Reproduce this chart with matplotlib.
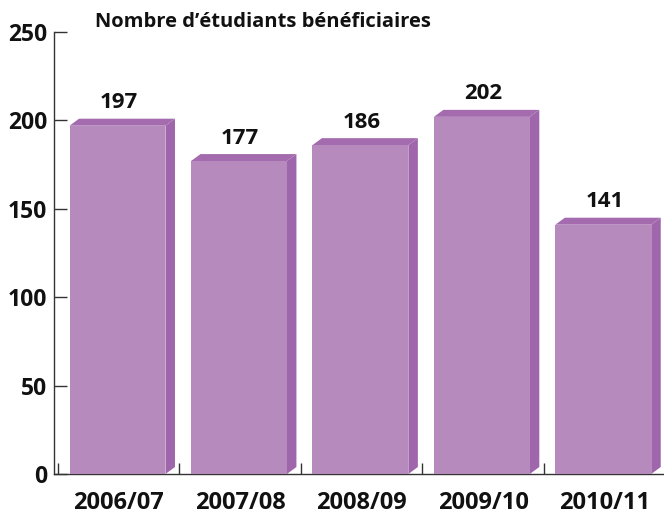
import matplotlib
matplotlib.use("Agg")
import matplotlib.pyplot as plt
from matplotlib.patches import Polygon
import numpy as np

categories = ["2006/07", "2007/08", "2008/09", "2009/10", "2010/11"]
values = [197, 177, 186, 202, 141]
yticks = [0, 50, 100, 150, 200, 250]
title = "Nombre d\u2019étudiants bénéficiaires"

FRONT = "#b68abd"
SIDE = "#a066ab"
TOP = "#a46cae"
FONT = "Open Sans"

fig = plt.figure(figsize=(6.64, 5.14), dpi=100)
ax = fig.add_axes([54 / 664, 40 / 514, 610 / 664, 442 / 514])
ax.set_xlim(-0.533, 4.49)
ax.set_ylim(0, 250)

x = np.arange(len(categories))
width = 0.79
bars = ax.bar(x - 0.01, values, width=width, color=FRONT, zorder=3)

fig.canvas.draw()
inv = ax.transData.inverted()
p0 = inv.transform(ax.transData.transform((0, 0)))
p1 = inv.transform(ax.transData.transform((0, 0)) + np.array([9.5, 7.0]))
dx, dy = p1 - p0

for b in bars:
    xl = b.get_x()
    xr = xl + b.get_width()
    h = b.get_height()
    side = Polygon([(xr, 0), (xr + dx, dy), (xr + dx, h + dy), (xr, h)],
                   closed=True, facecolor=SIDE, edgecolor="none", zorder=2)
    top = Polygon([(xl, h), (xl + dx, h + dy), (xr + dx, h + dy), (xr, h)],
                  closed=True, facecolor=TOP, edgecolor="none", zorder=2)
    ax.add_patch(side)
    ax.add_patch(top)

for xi, v in zip(x, values):
    ax.annotate(str(v), xy=(xi, v), xytext=(0, 9), textcoords="offset points",
                ha="center", va="bottom", fontsize=16, fontweight="bold",
                family=FONT, color="#111111")

for s in ["top", "right"]:
    ax.spines[s].set_visible(False)
for s in ["left", "bottom"]:
    ax.spines[s].set_color("#333333")
    ax.spines[s].set_linewidth(1.0)

ax.set_yticks(yticks)
ax.set_yticklabels([str(t) for t in yticks], fontsize=16.5, fontweight="bold",
                   family=FONT, color="#111111")
ax.tick_params(axis="y", direction="in", length=9, width=1.0, color="#333333", pad=5)

ax.set_xticks(x)
ax.set_xticklabels(categories, fontsize=17, fontweight="bold", family=FONT,
                   color="#111111")
ax.tick_params(axis="x", which="major", length=0, pad=12)
ax.set_xticks(np.arange(len(categories)) - 0.5, minor=True)
ax.tick_params(axis="x", which="minor", direction="in", length=8, width=1.0,
               color="#333333")

fig.text(95 / 664, 1 - 22 / 514, title, ha="left", va="center", fontsize=14.5,
         fontweight="bold", family=FONT, color="#111111")

fig.savefig("out.png", dpi=100)
